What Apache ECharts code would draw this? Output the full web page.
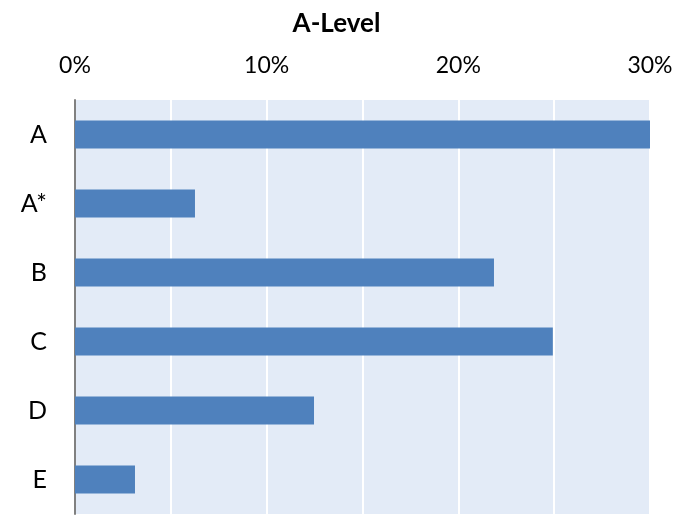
<!DOCTYPE html>
<html><head><meta charset="utf-8">
<script src="https://cdn.jsdelivr.net/npm/echarts@6/dist/echarts.min.js"></script>
<style>html,body{margin:0;padding:0;background:#fff}#c{width:673px;height:515px}</style>
</head><body><div id="c"></div>
<script>
const categories = ['A', 'A*', 'B', 'C', 'D', 'E'];
const values = [30, 6.26, 21.86, 24.93, 12.47, 3.13];
const tickLabels = {0: '0%', 10: '10%', 20: '20%', 30: '30%'};
const FONT = 'Lato, "Open Sans", sans-serif';
const chart = echarts.init(document.getElementById('c'));
chart.setOption({
  animation: false,
  title: {text: 'A-Level', left: 'center', top: 6, textStyle: {fontFamily: FONT, fontSize: 26, fontWeight: 'bold', color: '#000'}},
  grid: {left: 75, right: 23, top: 100, bottom: 1, show: true, backgroundColor: '#E3EBF7', borderWidth: 0, containLabel: false, outerBoundsMode: 'none'},
  xAxis: {
    type: 'value', position: 'top', min: 0, max: 30, interval: 5,
    axisLine: {show: false}, axisTick: {show: false},
    splitLine: {show: true, lineStyle: {color: '#ffffff', width: 2}},
    axisLabel: {margin: 23, fontFamily: FONT, fontSize: 23, color: '#000',
      formatter: v => tickLabels[v] !== undefined ? tickLabels[v] : ''}
  },
  yAxis: {
    type: 'category', data: categories, inverse: true,
    axisLine: {show: true, lineStyle: {color: '#808080', width: 2}},
    axisTick: {show: false},
    axisLabel: {margin: 28, fontFamily: FONT, fontSize: 25, color: '#000'}
  },
  series: [{type: 'bar', data: values, barWidth: 28, itemStyle: {color: '#4F81BD'}}]
});
</script></body></html>
